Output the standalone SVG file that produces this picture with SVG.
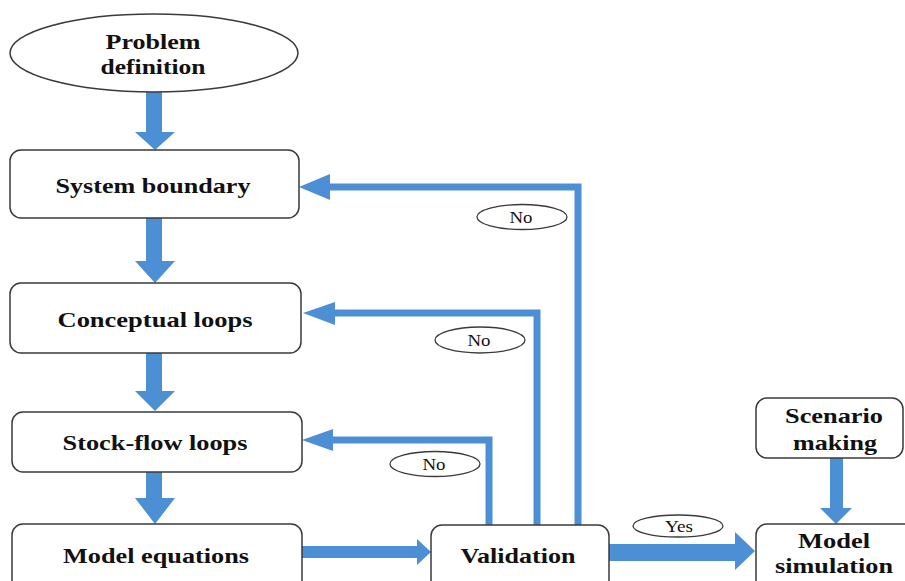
<svg xmlns="http://www.w3.org/2000/svg" width="905" height="581" viewBox="0 0 905 581">
  <style>
    .box { fill: #ffffff; stroke: #3a3a3a; stroke-width: 1.5; }
    .lbl { font-family: "Liberation Serif", "Times New Roman", serif; font-weight: bold; font-size: 21px; fill: #111; text-anchor: middle; }
    .tag { fill: #ffffff; stroke: #3a3a3a; stroke-width: 1.3; }
    .tagtxt { font-family: "Liberation Serif", "Times New Roman", serif; font-size: 16px; fill: #111; text-anchor: middle; }
    .flow { fill: #4d8fd5; }
    .line { fill: none; stroke: #4d8fd5; stroke-width: 7; }
  </style>
  <rect width="905" height="581" fill="#ffffff"/>

  <!-- connectors -->
  <g id="connectors">
    <polygon class="flow" points="146,92 162,92 162,132 175,132 155,150 135,132 146,132"/>
    <polygon class="flow" points="146,218 162,218 162,261 175,261 155,283 135,261 146,261"/>
    <polygon class="flow" points="146,353 162,353 162,391 175,391 155,411 135,391 146,391"/>
    <polygon class="flow" points="146,472 162,472 162,498 175,498 155,524 135,498 146,498"/>
    <polygon class="flow" points="302,546 417,546 417,539 431,552 417,565 417,558 302,558"/>
    <path class="line" d="M489,525 V440 H332"/>
    <polygon class="flow" points="333,429 333,451 302,440"/>
    <path class="line" d="M537,525 V313 H334"/>
    <polygon class="flow" points="335,302 335,325 303,313"/>
    <path class="line" d="M578,525 V187 H329"/>
    <polygon class="flow" points="330,174 330,200 299,187"/>
    <polygon class="flow" points="609,544 735,544 735,532 755,551 735,570 735,561 609,561"/>
    <polygon class="flow" points="830,458 843,458 843,508 852,508 836,524 820,508 830,508"/>
  </g>

  <g id="problem-definition">
    <ellipse class="box" cx="154" cy="53" rx="144" ry="39"/>
    <text class="lbl" x="153" y="49" textLength="95" lengthAdjust="spacingAndGlyphs">Problem</text>
    <text class="lbl" x="153" y="74" textLength="105" lengthAdjust="spacingAndGlyphs">definition</text>
  </g>

  <g id="system-boundary">
    <rect class="box" x="10" y="150" width="289" height="68" rx="11"/>
    <text class="lbl" x="153" y="193" textLength="195" lengthAdjust="spacingAndGlyphs">System boundary</text>
  </g>

  <g id="conceptual-loops">
    <rect class="box" x="10" y="283" width="291" height="70" rx="11"/>
    <text class="lbl" x="155" y="327" textLength="195" lengthAdjust="spacingAndGlyphs">Conceptual loops</text>
  </g>

  <g id="stock-flow-loops">
    <rect class="box" x="12" y="412" width="290" height="60" rx="11"/>
    <text class="lbl" x="155" y="450" textLength="185" lengthAdjust="spacingAndGlyphs">Stock-flow loops</text>
  </g>

  <g id="model-equations">
    <rect class="box" x="12" y="524" width="290" height="70" rx="11"/>
    <text class="lbl" x="156" y="563" textLength="186" lengthAdjust="spacingAndGlyphs">Model equations</text>
  </g>

  <g id="validation">
    <rect class="box" x="431" y="525" width="178" height="70" rx="11"/>
    <text class="lbl" x="518" y="563" textLength="115" lengthAdjust="spacingAndGlyphs">Validation</text>
  </g>

  <g id="scenario-making">
    <rect class="box" x="756" y="398" width="147" height="60" rx="11"/>
    <text class="lbl" x="834" y="423" textLength="98" lengthAdjust="spacingAndGlyphs">Scenario</text>
    <text class="lbl" x="835" y="450" textLength="84" lengthAdjust="spacingAndGlyphs">making</text>
  </g>

  <g id="model-simulation">
    <rect class="box" x="756" y="524" width="160" height="70" rx="11"/>
    <text class="lbl" x="834" y="548" textLength="72" lengthAdjust="spacingAndGlyphs">Model</text>
    <text class="lbl" x="834" y="573" textLength="118" lengthAdjust="spacingAndGlyphs">simulation</text>
  </g>

  <!-- decision tags -->
  <g id="tag-no-1">
    <ellipse class="tag" cx="522" cy="217" rx="45" ry="12.5"/>
    <text class="tagtxt" x="521" y="223" textLength="23" lengthAdjust="spacingAndGlyphs">No</text>
  </g>
  <g id="tag-no-2">
    <ellipse class="tag" cx="480" cy="340" rx="45" ry="13"/>
    <text class="tagtxt" x="479" y="346" textLength="23" lengthAdjust="spacingAndGlyphs">No</text>
  </g>
  <g id="tag-no-3">
    <ellipse class="tag" cx="435" cy="464" rx="45" ry="12.5"/>
    <text class="tagtxt" x="434" y="470" textLength="23" lengthAdjust="spacingAndGlyphs">No</text>
  </g>
  <g id="tag-yes">
    <ellipse class="tag" cx="678" cy="526" rx="45" ry="11"/>
    <text class="tagtxt" x="679" y="532" textLength="28" lengthAdjust="spacingAndGlyphs">Yes</text>
  </g>
</svg>
